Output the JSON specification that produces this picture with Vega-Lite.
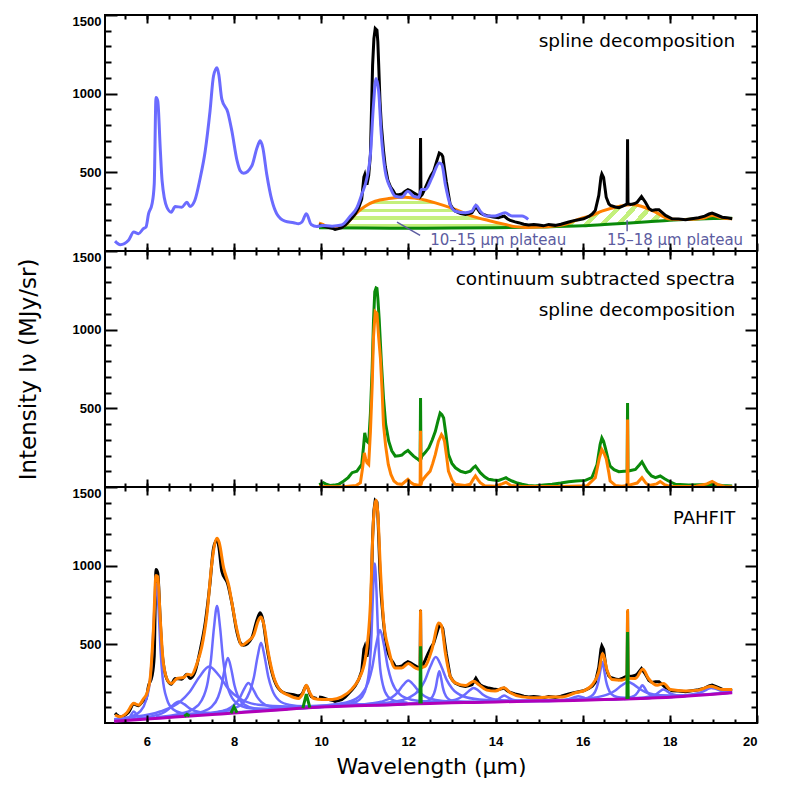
{
"$schema": "https://vega.github.io/schema/vega-lite/v6.json",
"padding": {"left": 16, "top": 13, "right": 5, "bottom": 0},
"background": "white",
"config": {"view": {"stroke": "#000", "strokeWidth": 2}, "axis": {"minExtent": 0, "grid": false, "domain": false, "ticks": true, "tickColor": "#000", "tickWidth": 2, "tickOpacity": 1}},
"datasets": {
"lowres": [{"x":5.27,"y":63},{"x":5.39,"y":40},{"x":5.58,"y":68},{"x":5.70,"y":120},{"x":5.81,"y":110},{"x":5.92,"y":142},{"x":5.98,"y":152},{"x":6.04,"y":237},{"x":6.12,"y":300},{"x":6.17,"y":427},{"x":6.21,"y":975},{"x":6.25,"y":954},{"x":6.31,"y":637},{"x":6.35,"y":447},{"x":6.46,"y":278},{"x":6.56,"y":247},{"x":6.65,"y":283},{"x":6.80,"y":278},{"x":6.92,"y":310},{"x":6.99,"y":283},{"x":7.10,"y":321},{"x":7.22,"y":458},{"x":7.34,"y":637},{"x":7.45,"y":890},{"x":7.53,"y":1112},{"x":7.61,"y":1165},{"x":7.65,"y":1123},{"x":7.72,"y":965},{"x":7.86,"y":880},{"x":7.95,"y":764},{"x":8.07,"y":574},{"x":8.14,"y":511},{"x":8.22,"y":494},{"x":8.41,"y":542},{"x":8.53,"y":658},{"x":8.60,"y":700},{"x":8.66,"y":658},{"x":8.75,"y":490},{"x":8.87,"y":321},{"x":8.98,"y":237},{"x":9.17,"y":190},{"x":9.37,"y":180},{"x":9.48,"y":173},{"x":9.56,"y":184},{"x":9.66,"y":237},{"x":9.77,"y":169},{"x":9.90,"y":156},{"x":10.02,"y":162},{"x":10.25,"y":158},{"x":10.47,"y":165},{"x":10.67,"y":222},{"x":10.82,"y":275},{"x":10.93,"y":359},{"x":11.05,"y":465},{"x":11.13,"y":612},{"x":11.20,"y":928},{"x":11.26,"y":1097},{"x":11.32,"y":1013},{"x":11.38,"y":739},{"x":11.47,"y":506},{"x":11.59,"y":401},{"x":11.70,"y":348},{"x":11.85,"y":342},{"x":11.99,"y":380},{"x":12.12,"y":348},{"x":12.24,"y":342},{"x":12.30,"y":391},{"x":12.39,"y":391},{"x":12.54,"y":465},{"x":12.71,"y":560},{"x":12.77,"y":549},{"x":12.85,"y":422},{"x":12.96,"y":296},{"x":13.08,"y":253},{"x":13.31,"y":243},{"x":13.46,"y":253},{"x":13.55,"y":291},{"x":13.65,"y":253},{"x":13.80,"y":222},{"x":13.99,"y":222},{"x":14.22,"y":243},{"x":14.38,"y":222},{"x":14.61,"y":222},{"x":14.75,"y":201}],
"hires": [{"x":9.95,"y":165},{"x":10.02,"y":162},{"x":10.15,"y":150},{"x":10.25,"y":145},{"x":10.32,"y":137},{"x":10.4,"y":142},{"x":10.47,"y":148},{"x":10.55,"y":165},{"x":10.62,"y":185},{"x":10.71,"y":211},{"x":10.78,"y":235},{"x":10.86,"y":275},{"x":10.93,"y":330},{"x":10.98,"y":470},{"x":11.0,"y":485},{"x":11.03,"y":440},{"x":11.05,"y":422},{"x":11.09,"y":480},{"x":11.13,"y":612},{"x":11.18,"y":1182},{"x":11.21,"y":1350},{"x":11.24,"y":1414},{"x":11.28,"y":1403},{"x":11.30,"y":1330},{"x":11.32,"y":1182},{"x":11.35,"y":950},{"x":11.38,"y":802},{"x":11.43,"y":640},{"x":11.47,"y":538},{"x":11.53,"y":450},{"x":11.59,"y":408},{"x":11.65,"y":385},{"x":11.70,"y":359},{"x":11.78,"y":358},{"x":11.85,"y":362},{"x":11.92,"y":378},{"x":11.99,"y":390},{"x":12.05,"y":382},{"x":12.12,"y":370},{"x":12.18,"y":360},{"x":12.25,"y":348},{"x":12.27,"y":350},{"x":12.28,"y":718},{"x":12.29,"y":350},{"x":12.32,"y":359},{"x":12.39,"y":401},{"x":12.45,"y":440},{"x":12.52,"y":480},{"x":12.58,"y":506},{"x":12.65,"y":570},{"x":12.71,"y":623},{"x":12.76,"y":615},{"x":12.79,"y":601},{"x":12.83,"y":520},{"x":12.87,"y":443},{"x":12.92,"y":360},{"x":12.96,"y":296},{"x":13.02,"y":270},{"x":13.08,"y":253},{"x":13.2,"y":238},{"x":13.31,"y":232},{"x":13.4,"y":238},{"x":13.46,"y":243},{"x":13.51,"y":265},{"x":13.55,"y":285},{"x":13.6,"y":262},{"x":13.65,"y":243},{"x":13.72,"y":232},{"x":13.84,"y":222},{"x":13.95,"y":216},{"x":14.07,"y":211},{"x":14.14,"y":218},{"x":14.2,"y":222},{"x":14.27,"y":205},{"x":14.34,"y":194},{"x":14.45,"y":185},{"x":14.53,"y":180},{"x":14.65,"y":170},{"x":14.76,"y":165},{"x":14.88,"y":168},{"x":14.99,"y":165},{"x":15.1,"y":160},{"x":15.22,"y":169},{"x":15.37,"y":163},{"x":15.5,"y":170},{"x":15.68,"y":184},{"x":15.8,"y":193},{"x":15.91,"y":199},{"x":16.02,"y":205},{"x":16.14,"y":220},{"x":16.22,"y":235},{"x":16.29,"y":258},{"x":16.37,"y":353},{"x":16.42,"y":470},{"x":16.44,"y":490},{"x":16.48,"y":468},{"x":16.54,"y":342},{"x":16.6,"y":300},{"x":16.64,"y":289},{"x":16.75,"y":280},{"x":16.83,"y":275},{"x":16.92,"y":285},{"x":17.0,"y":296},{"x":17.02,"y":300},{"x":17.03,"y":711},{"x":17.04,"y":300},{"x":17.1,"y":296},{"x":17.18,"y":300},{"x":17.25,"y":310},{"x":17.35,"y":346},{"x":17.44,"y":310},{"x":17.52,"y":270},{"x":17.59,"y":258},{"x":17.67,"y":262},{"x":17.75,"y":262},{"x":17.82,"y":245},{"x":17.9,"y":226},{"x":18.05,"y":205},{"x":18.2,"y":203},{"x":18.36,"y":199},{"x":18.5,"y":205},{"x":18.66,"y":211},{"x":18.8,"y":222},{"x":18.9,"y":235},{"x":18.97,"y":241},{"x":19.05,"y":232},{"x":19.2,"y":215},{"x":19.3,"y":212},{"x":19.43,"y":205}],
"spline": [{"x":9.95,"y":178},{"x":10.02,"y":170},{"x":10.15,"y":155},{"x":10.3,"y":148},{"x":10.45,"y":150},{"x":10.6,"y":175},{"x":10.71,"y":211},{"x":10.86,"y":253},{"x":11.01,"y":285},{"x":11.24,"y":316},{"x":11.55,"y":333},{"x":11.93,"y":342},{"x":12.24,"y":332},{"x":12.62,"y":306},{"x":13.08,"y":264},{"x":13.46,"y":222},{"x":13.84,"y":194},{"x":14.22,"y":169},{"x":14.45,"y":155},{"x":14.7,"y":150},{"x":15.0,"y":152},{"x":15.3,"y":157},{"x":15.6,"y":170},{"x":15.83,"y":194},{"x":16.0,"y":210},{"x":16.21,"y":226},{"x":16.44,"y":253},{"x":16.83,"y":283},{"x":17.13,"y":296},{"x":17.36,"y":283},{"x":17.67,"y":247},{"x":17.97,"y":205},{"x":18.2,"y":200},{"x":18.5,"y":202},{"x":18.75,"y":208},{"x":18.97,"y":225},{"x":19.2,"y":210},{"x":19.43,"y":205}],
"base": [{"x":9.95,"y":147},{"x":11,"y":146},{"x":12,"y":145},{"x":13,"y":146},{"x":14,"y":148},{"x":15,"y":152},{"x":16,"y":160},{"x":16.5,"y":168},{"x":17,"y":176},{"x":17.5,"y":186},{"x":18,"y":196},{"x":18.5,"y":202},{"x":19,"y":206},{"x":19.43,"y":208}],
"hatchA": [{"x":10.4,"lo":146,"hi":149},{"x":10.6,"lo":146,"hi":175},{"x":10.86,"lo":146,"hi":253},{"x":11.01,"lo":146,"hi":285},{"x":11.24,"lo":146,"hi":316},{"x":11.55,"lo":145,"hi":333},{"x":11.93,"lo":145,"hi":342},{"x":12.24,"lo":145,"hi":332},{"x":12.62,"lo":145,"hi":306},{"x":13.08,"lo":146,"hi":264},{"x":13.46,"lo":147,"hi":222},{"x":13.84,"lo":147,"hi":194},{"x":14.22,"lo":148,"hi":169},{"x":14.45,"lo":149,"hi":155},{"x":14.65,"lo":150,"hi":150}],
"hatchB": [{"x":15.6,"lo":156,"hi":170},{"x":15.83,"lo":158,"hi":194},{"x":16.0,"lo":160,"hi":210},{"x":16.21,"lo":163,"hi":226},{"x":16.44,"lo":167,"hi":253},{"x":16.83,"lo":173,"hi":283},{"x":17.13,"lo":178,"hi":296},{"x":17.36,"lo":182,"hi":283},{"x":17.67,"lo":189,"hi":247},{"x":17.97,"lo":195,"hi":205},{"x":18.05,"lo":197,"hi":200}],
"midg": [{"x":9.95,"y":15},{"x":9.98,"y":17},{"x":10.05,"y":27},{"x":10.1,"y":20},{"x":10.2,"y":10},{"x":10.3,"y":12},{"x":10.4,"y":17},{"x":10.52,"y":38},{"x":10.62,"y":60},{"x":10.71,"y":91},{"x":10.82,"y":101},{"x":10.93,"y":143},{"x":10.97,"y":250},{"x":11.0,"y":344},{"x":11.03,"y":300},{"x":11.05,"y":291},{"x":11.09,"y":280},{"x":11.13,"y":470},{"x":11.17,"y":755},{"x":11.2,"y":1050},{"x":11.23,"y":1241},{"x":11.26,"y":1265},{"x":11.28,"y":1262},{"x":11.3,"y":1200},{"x":11.33,"y":1072},{"x":11.38,"y":800},{"x":11.43,"y":565},{"x":11.48,"y":400},{"x":11.55,"y":291},{"x":11.62,"y":230},{"x":11.70,"y":196},{"x":11.78,"y":198},{"x":11.85,"y":203},{"x":11.92,"y":220},{"x":11.99,"y":232},{"x":12.05,"y":215},{"x":12.12,"y":196},{"x":12.2,"y":180},{"x":12.25,"y":169},{"x":12.27,"y":175},{"x":12.28,"y":565},{"x":12.29,"y":175},{"x":12.31,"y":196},{"x":12.39,"y":220},{"x":12.47,"y":249},{"x":12.55,"y":300},{"x":12.62,"y":354},{"x":12.68,"y":420},{"x":12.73,"y":470},{"x":12.77,"y":460},{"x":12.81,"y":439},{"x":12.86,"y":340},{"x":12.92,"y":207},{"x":13.0,"y":150},{"x":13.08,"y":122},{"x":13.2,"y":100},{"x":13.31,"y":91},{"x":13.42,"y":101},{"x":13.5,"y":125},{"x":13.54,"y":133},{"x":13.6,"y":110},{"x":13.65,"y":91},{"x":13.75,"y":65},{"x":13.84,"y":49},{"x":13.95,"y":45},{"x":14.07,"y":42},{"x":14.17,"y":52},{"x":14.24,"y":59},{"x":14.3,"y":48},{"x":14.38,"y":38},{"x":14.5,"y":25},{"x":14.61,"y":17},{"x":14.75,"y":10},{"x":14.91,"y":6},{"x":15.1,"y":12},{"x":15.3,"y":17},{"x":15.5,"y":25},{"x":15.68,"y":34},{"x":15.85,"y":38},{"x":16.06,"y":42},{"x":16.21,"y":59},{"x":16.33,"y":143},{"x":16.4,"y":270},{"x":16.44,"y":312},{"x":16.48,"y":290},{"x":16.52,"y":249},{"x":16.58,"y":180},{"x":16.63,"y":133},{"x":16.72,"y":110},{"x":16.83,"y":97},{"x":16.95,"y":100},{"x":17.02,"y":101},{"x":17.03,"y":534},{"x":17.04,"y":101},{"x":17.1,"y":105},{"x":17.21,"y":112},{"x":17.3,"y":140},{"x":17.36,"y":160},{"x":17.42,"y":130},{"x":17.48,"y":101},{"x":17.58,"y":70},{"x":17.67,"y":59},{"x":17.78,"y":70},{"x":17.88,"y":52},{"x":17.97,"y":38},{"x":18.13,"y":17},{"x":18.43,"y":13},{"x":18.7,"y":15},{"x":18.97,"y":17},{"x":19.2,"y":10},{"x":19.43,"y":6}],
"mido": [{"x":9.95,"y":3},{"x":10.5,"y":2},{"x":10.8,"y":10},{"x":10.9,"y":27},{"x":10.95,"y":120},{"x":10.99,"y":217},{"x":11.02,"y":180},{"x":11.05,"y":154},{"x":11.09,"y":143},{"x":11.13,"y":350},{"x":11.17,"y":640},{"x":11.2,"y":950},{"x":11.24,"y":1114},{"x":11.28,"y":1103},{"x":11.32,"y":950},{"x":11.36,"y":818},{"x":11.4,"y":600},{"x":11.43,"y":396},{"x":11.48,"y":260},{"x":11.54,"y":143},{"x":11.6,"y":80},{"x":11.67,"y":38},{"x":11.75,"y":20},{"x":11.85,"y":17},{"x":11.93,"y":35},{"x":11.99,"y":49},{"x":12.05,"y":30},{"x":12.12,"y":17},{"x":12.25,"y":10},{"x":12.27,"y":12},{"x":12.28,"y":358},{"x":12.29,"y":12},{"x":12.31,"y":38},{"x":12.4,"y":70},{"x":12.5,"y":101},{"x":12.56,"y":150},{"x":12.62,"y":207},{"x":12.69,"y":290},{"x":12.76,"y":333},{"x":12.8,"y":315},{"x":12.83,"y":291},{"x":12.88,"y":190},{"x":12.92,"y":101},{"x":13.0,"y":45},{"x":13.08,"y":17},{"x":13.3,"y":10},{"x":13.42,"y":17},{"x":13.49,"y":50},{"x":13.54,"y":70},{"x":13.6,"y":45},{"x":13.65,"y":27},{"x":13.75,"y":8},{"x":14.0,"y":5},{"x":14.15,"y":20},{"x":14.24,"y":30},{"x":14.35,"y":10},{"x":14.6,"y":3},{"x":15.5,"y":3},{"x":16.1,"y":8},{"x":16.29,"y":59},{"x":16.38,"y":180},{"x":16.44,"y":238},{"x":16.49,"y":215},{"x":16.54,"y":180},{"x":16.6,"y":90},{"x":16.63,"y":38},{"x":16.75,"y":10},{"x":16.9,"y":5},{"x":17.02,"y":10},{"x":17.03,"y":429},{"x":17.04,"y":10},{"x":17.25,"y":25},{"x":17.36,"y":59},{"x":17.45,"y":25},{"x":17.52,"y":10},{"x":17.7,"y":20},{"x":17.78,"y":35},{"x":17.88,"y":15},{"x":18.0,"y":3},{"x":18.6,"y":5},{"x":18.85,"y":20},{"x":18.97,"y":35},{"x":19.1,"y":15},{"x":19.25,"y":3},{"x":19.43,"y":2}],
"model": [{"x":5.27,"y":51},{"x":5.39,"y":40},{"x":5.54,"y":65},{"x":5.70,"y":125},{"x":5.81,"y":114},{"x":5.92,"y":152},{"x":6.0,"y":188},{"x":6.08,"y":293},{"x":6.15,"y":589},{"x":6.21,"y":937},{"x":6.25,"y":930},{"x":6.31,"y":652},{"x":6.38,"y":378},{"x":6.50,"y":261},{"x":6.57,"y":251},{"x":6.69,"y":283},{"x":6.84,"y":289},{"x":6.94,"y":310},{"x":7.02,"y":304},{"x":7.15,"y":378},{"x":7.26,"y":483},{"x":7.38,"y":694},{"x":7.49,"y":1011},{"x":7.61,"y":1175},{"x":7.66,"y":1147},{"x":7.76,"y":989},{"x":7.88,"y":873},{"x":7.95,"y":768},{"x":8.07,"y":589},{"x":8.18,"y":494},{"x":8.30,"y":515},{"x":8.45,"y":557},{"x":8.56,"y":652},{"x":8.62,"y":673},{"x":8.68,"y":631},{"x":8.79,"y":441},{"x":8.91,"y":293},{"x":9.06,"y":209},{"x":9.25,"y":177},{"x":9.48,"y":156},{"x":9.58,"y":188},{"x":9.66,"y":240},{"x":9.73,"y":198},{"x":9.83,"y":156},{"x":10.02,"y":150},{"x":10.25,"y":150},{"x":10.47,"y":166},{"x":10.71,"y":217},{"x":10.86,"y":277},{"x":11.01,"y":403},{"x":11.13,"y":761},{"x":11.20,"y":1289},{"x":11.26,"y":1416},{"x":11.30,"y":1331},{"x":11.36,"y":973},{"x":11.43,"y":656},{"x":11.55,"y":466},{"x":11.70,"y":350},{"x":11.85,"y":350},{"x":12.0,"y":378},{"x":12.16,"y":350},{"x":12.26,"y":342},{"x":12.27,"y":345},{"x":12.28,"y":715},{"x":12.29,"y":345},{"x":12.30,"y":350},{"x":12.39,"y":361},{"x":12.54,"y":466},{"x":12.70,"y":635},{"x":12.76,"y":620},{"x":12.85,"y":445},{"x":12.96,"y":297},{"x":13.08,"y":255},{"x":13.31,"y":238},{"x":13.50,"y":266},{"x":13.61,"y":245},{"x":13.80,"y":209},{"x":13.99,"y":203},{"x":14.19,"y":224},{"x":14.34,"y":192},{"x":14.61,"y":166},{"x":14.99,"y":160},{"x":15.30,"y":166},{"x":15.53,"y":166},{"x":15.83,"y":192},{"x":16.06,"y":209},{"x":16.21,"y":240},{"x":16.37,"y":325},{"x":16.46,"y":441},{"x":16.56,"y":335},{"x":16.67,"y":277},{"x":16.90,"y":272},{"x":17.0,"y":282},{"x":17.02,"y":284},{"x":17.03,"y":715},{"x":17.04,"y":284},{"x":17.21,"y":283},{"x":17.38,"y":342},{"x":17.51,"y":283},{"x":17.71,"y":240},{"x":17.86,"y":251},{"x":18.01,"y":213},{"x":18.36,"y":204},{"x":18.66,"y":209},{"x":18.95,"y":234},{"x":19.20,"y":213},{"x":19.43,"y":213}],
"cont": [{"x":5.25,"y":11},{"x":5.5,"y":16},{"x":6,"y":25},{"x":6.5,"y":35},{"x":7,"y":45},{"x":7.5,"y":54},{"x":8,"y":63},{"x":8.5,"y":73},{"x":9,"y":83},{"x":9.5,"y":93},{"x":10,"y":101},{"x":10.5,"y":107},{"x":11,"y":111},{"x":11.5,"y":115},{"x":12,"y":120},{"x":12.5,"y":124},{"x":13,"y":128},{"x":13.5,"y":131},{"x":14,"y":134},{"x":14.5,"y":137},{"x":15,"y":140},{"x":15.5,"y":142},{"x":16,"y":145},{"x":16.5,"y":149},{"x":17,"y":153},{"x":17.5,"y":158},{"x":18,"y":164},{"x":18.5,"y":173},{"x":19,"y":183},{"x":19.43,"y":192}],
"h2": [{"id":1,"x":6.86,"y":43},{"id":1,"x":6.92,"y":55},{"id":1,"x":6.98,"y":45},{"id":2,"x":7.93,"y":62},{"id":2,"x":8.0,"y":103},{"id":2,"x":8.07,"y":65},{"id":3,"x":9.58,"y":94},{"id":3,"x":9.66,"y":184},{"id":3,"x":9.74,"y":97},{"id":4,"x":12.265,"y":124},{"id":4,"x":12.28,"y":487},{"id":4,"x":12.295,"y":124},{"id":5,"x":17.015,"y":153},{"id":5,"x":17.03,"y":578},{"id":5,"x":17.045,"y":154}],
"drude": [
{"id":1,"x":5.25,"y":12},{"id":1,"x":5.40,"y":17},{"id":1,"x":5.51,"y":23},{"id":1,"x":5.59,"y":34},{"id":1,"x":5.625,"y":45},{"id":1,"x":5.66,"y":61},{"id":1,"x":5.70,"y":73},{"id":1,"x":5.74,"y":63},{"id":1,"x":5.775,"y":48},{"id":1,"x":5.81,"y":38},{"id":1,"x":5.89,"y":30},{"id":1,"x":6.0,"y":28},{"id":1,"x":6.15,"y":29},{"id":1,"x":6.45,"y":35},
{"id":2,"x":5.27,"y":20},{"id":2,"x":5.65,"y":42},{"id":2,"x":5.84,"y":72},{"id":2,"x":5.98,"y":143},{"id":2,"x":6.08,"y":290},{"id":2,"x":6.125,"y":456},{"id":2,"x":6.17,"y":713},{"id":2,"x":6.22,"y":885},{"id":2,"x":6.27,"y":715},{"id":2,"x":6.315,"y":459},{"id":2,"x":6.36,"y":295},{"id":2,"x":6.46,"y":152},{"id":2,"x":6.60,"y":87},{"id":2,"x":6.79,"y":64},{"id":2,"x":7.17,"y":57},{"id":2,"x":7.8,"y":63},
{"id":3,"x":5.25,"y":14},{"id":3,"x":5.73,"y":26},{"id":3,"x":6.105,"y":42},{"id":3,"x":6.355,"y":62},{"id":3,"x":6.48,"y":84},{"id":3,"x":6.605,"y":115},{"id":3,"x":6.73,"y":137},{"id":3,"x":6.855,"y":120},{"id":3,"x":6.98,"y":93},{"id":3,"x":7.105,"y":76},{"id":3,"x":7.355,"y":65},{"id":3,"x":7.73,"y":64},{"id":3,"x":8.23,"y":71},{"id":3,"x":9.23,"y":88},
{"id":4,"x":5.25,"y":24},{"id":4,"x":5.63,"y":36},{"id":4,"x":6.305,"y":73},{"id":4,"x":6.755,"y":134},{"id":4,"x":6.98,"y":197},{"id":4,"x":7.205,"y":293},{"id":4,"x":7.43,"y":359},{"id":4,"x":7.655,"y":302},{"id":4,"x":7.88,"y":214},{"id":4,"x":8.105,"y":160},{"id":4,"x":8.555,"y":116},{"id":4,"x":9.23,"y":105},{"id":4,"x":10.13,"y":111},{"id":4,"x":11.93,"y":122},
{"id":5,"x":6.21,"y":36},{"id":5,"x":6.77,"y":59},{"id":5,"x":7.05,"y":86},{"id":5,"x":7.26,"y":145},{"id":5,"x":7.40,"y":264},{"id":5,"x":7.47,"y":398},{"id":5,"x":7.54,"y":605},{"id":5,"x":7.61,"y":744},{"id":5,"x":7.68,"y":608},{"id":5,"x":7.75,"y":403},{"id":5,"x":7.82,"y":272},{"id":5,"x":7.96,"y":158},{"id":5,"x":8.17,"y":108},{"id":5,"x":8.45,"y":91},{"id":5,"x":9.01,"y":90},
{"id":6,"x":6.36,"y":36},{"id":6,"x":6.96,"y":54},{"id":6,"x":7.26,"y":71},{"id":6,"x":7.485,"y":103},{"id":6,"x":7.635,"y":165},{"id":6,"x":7.71,"y":234},{"id":6,"x":7.785,"y":342},{"id":6,"x":7.86,"y":413},{"id":6,"x":7.935,"y":345},{"id":6,"x":8.01,"y":240},{"id":6,"x":8.085,"y":173},{"id":6,"x":8.235,"y":117},{"id":6,"x":8.46,"y":94},{"id":6,"x":8.76,"y":88},{"id":6,"x":9.36,"y":93},
{"id":7,"x":6.33,"y":34},{"id":7,"x":7.13,"y":52},{"id":7,"x":7.53,"y":66},{"id":7,"x":7.83,"y":85},{"id":7,"x":8.03,"y":121},{"id":7,"x":8.13,"y":158},{"id":7,"x":8.23,"y":215},{"id":7,"x":8.33,"y":254},{"id":7,"x":8.43,"y":219},{"id":7,"x":8.53,"y":166},{"id":7,"x":8.63,"y":133},{"id":7,"x":8.83,"y":105},{"id":7,"x":9.13,"y":96},{"id":7,"x":9.53,"y":98},{"id":7,"x":10.33,"y":107},
{"id":8,"x":6.97,"y":48},{"id":8,"x":7.63,"y":69},{"id":8,"x":7.96,"y":89},{"id":8,"x":8.21,"y":128},{"id":8,"x":8.37,"y":205},{"id":8,"x":8.455,"y":289},{"id":8,"x":8.54,"y":421},{"id":8,"x":8.62,"y":510},{"id":8,"x":8.70,"y":424},{"id":8,"x":8.785,"y":296},{"id":8,"x":8.87,"y":215},{"id":8,"x":9.03,"y":144},{"id":8,"x":9.28,"y":115},{"id":8,"x":9.61,"y":107},{"id":8,"x":10.27,"y":108},
{"id":9,"x":9.43,"y":91},{"id":9,"x":9.93,"y":102},{"id":9,"x":10.18,"y":106},{"id":9,"x":10.37,"y":109},{"id":9,"x":10.49,"y":115},{"id":9,"x":10.555,"y":122},{"id":9,"x":10.62,"y":131},{"id":9,"x":10.68,"y":138},{"id":9,"x":10.74,"y":132},{"id":9,"x":10.805,"y":124},{"id":9,"x":10.87,"y":119},{"id":9,"x":10.99,"y":115},{"id":9,"x":11.18,"y":114},{"id":9,"x":11.43,"y":115},{"id":9,"x":11.93,"y":119},
{"id":10,"x":10.48,"y":115},{"id":10,"x":10.78,"y":133},{"id":10,"x":10.93,"y":163},{"id":10,"x":11.04,"y":235},{"id":10,"x":11.12,"y":389},{"id":10,"x":11.155,"y":562},{"id":10,"x":11.19,"y":832},{"id":10,"x":11.23,"y":1013},{"id":10,"x":11.27,"y":833},{"id":10,"x":11.305,"y":563},{"id":10,"x":11.34,"y":391},{"id":10,"x":11.42,"y":238},{"id":10,"x":11.53,"y":168},{"id":10,"x":11.68,"y":141},{"id":10,"x":11.98,"y":128},
{"id":11,"x":9.55,"y":99},{"id":11,"x":10.27,"y":117},{"id":11,"x":10.63,"y":135},{"id":11,"x":10.90,"y":176},{"id":11,"x":11.08,"y":258},{"id":11,"x":11.17,"y":351},{"id":11,"x":11.26,"y":495},{"id":11,"x":11.35,"y":591},{"id":11,"x":11.44,"y":496},{"id":11,"x":11.53,"y":354},{"id":11,"x":11.62,"y":263},{"id":11,"x":11.80,"y":184},{"id":11,"x":12.07,"y":148},{"id":11,"x":12.43,"y":136},{"id":11,"x":13.15,"y":134},
{"id":12,"x":9.5,"y":94},{"id":12,"x":10.5,"y":110},{"id":12,"x":11.0,"y":120},{"id":12,"x":11.375,"y":135},{"id":12,"x":11.625,"y":163},{"id":12,"x":11.75,"y":193},{"id":12,"x":11.875,"y":239},{"id":12,"x":12.0,"y":270},{"id":12,"x":12.125,"y":241},{"id":12,"x":12.25,"y":198},{"id":12,"x":12.375,"y":170},{"id":12,"x":12.625,"y":146},{"id":12,"x":13.0,"y":137},{"id":12,"x":13.5,"y":135},{"id":12,"x":14.5,"y":138},
{"id":13,"x":10.13,"y":106},{"id":13,"x":11.13,"y":120},{"id":13,"x":11.63,"y":133},{"id":13,"x":12.005,"y":160},{"id":13,"x":12.255,"y":213},{"id":13,"x":12.38,"y":270},{"id":13,"x":12.505,"y":359},{"id":13,"x":12.63,"y":419},{"id":13,"x":12.755,"y":361},{"id":13,"x":12.88,"y":274},{"id":13,"x":13.005,"y":219},{"id":13,"x":13.255,"y":170},{"id":13,"x":13.63,"y":149},{"id":13,"x":14.13,"y":142},{"id":13,"x":15.13,"y":142},
{"id":14,"x":11.91,"y":121},{"id":14,"x":12.23,"y":127},{"id":14,"x":12.39,"y":135},{"id":14,"x":12.51,"y":152},{"id":14,"x":12.59,"y":188},{"id":14,"x":12.63,"y":227},{"id":14,"x":12.67,"y":288},{"id":14,"x":12.71,"y":329},{"id":14,"x":12.75,"y":288},{"id":14,"x":12.79,"y":228},{"id":14,"x":12.83,"y":190},{"id":14,"x":12.91,"y":155},{"id":14,"x":13.03,"y":140},{"id":14,"x":13.19,"y":135},{"id":14,"x":13.51,"y":133},
{"id":15,"x":11.25,"y":114},{"id":15,"x":12.15,"y":124},{"id":15,"x":12.6,"y":130},{"id":15,"x":12.94,"y":140},{"id":15,"x":13.16,"y":157},{"id":15,"x":13.275,"y":176},{"id":15,"x":13.39,"y":204},{"id":15,"x":13.5,"y":223},{"id":15,"x":13.61,"y":205},{"id":15,"x":13.725,"y":178},{"id":15,"x":13.84,"y":161},{"id":15,"x":14.06,"y":147},{"id":15,"x":14.4,"y":141},{"id":15,"x":14.85,"y":142},{"id":15,"x":15.75,"y":145},
{"id":16,"x":12.95,"y":128},{"id":16,"x":13.45,"y":132},{"id":16,"x":13.7,"y":134},{"id":16,"x":13.89,"y":139},{"id":16,"x":14.01,"y":146},{"id":16,"x":14.075,"y":154},{"id":16,"x":14.14,"y":167},{"id":16,"x":14.2,"y":175},{"id":16,"x":14.26,"y":167},{"id":16,"x":14.325,"y":156},{"id":16,"x":14.39,"y":148},{"id":16,"x":14.51,"y":142},{"id":16,"x":14.7,"y":140},{"id":16,"x":14.95,"y":140},{"id":16,"x":15.45,"y":142},
{"id":17,"x":14.4,"y":136},{"id":17,"x":15.0,"y":140},{"id":17,"x":15.3,"y":142},{"id":17,"x":15.525,"y":146},{"id":17,"x":15.675,"y":151},{"id":17,"x":15.75,"y":157},{"id":17,"x":15.825,"y":165},{"id":17,"x":15.9,"y":170},{"id":17,"x":15.975,"y":166},{"id":17,"x":16.05,"y":158},{"id":17,"x":16.125,"y":154},{"id":17,"x":16.275,"y":151},{"id":17,"x":16.5,"y":150},{"id":17,"x":16.8,"y":152},{"id":17,"x":17.4,"y":157},
{"id":18,"x":15.6,"y":145},{"id":18,"x":15.94,"y":152},{"id":18,"x":16.11,"y":160},{"id":18,"x":16.24,"y":180},{"id":18,"x":16.32,"y":222},{"id":18,"x":16.365,"y":268},{"id":18,"x":16.41,"y":339},{"id":18,"x":16.45,"y":388},{"id":18,"x":16.49,"y":340},{"id":18,"x":16.535,"y":269},{"id":18,"x":16.58,"y":224},{"id":18,"x":16.66,"y":183},{"id":18,"x":16.79,"y":165},{"id":18,"x":16.96,"y":160},{"id":18,"x":17.3,"y":158},
{"id":19,"x":14.04,"y":135},{"id":19,"x":15.24,"y":144},{"id":19,"x":15.84,"y":150},{"id":19,"x":16.29,"y":162},{"id":19,"x":16.59,"y":183},{"id":19,"x":16.74,"y":205},{"id":19,"x":16.89,"y":238},{"id":19,"x":17.04,"y":261},{"id":19,"x":17.19,"y":241},{"id":19,"x":17.34,"y":211},{"id":19,"x":17.49,"y":191},{"id":19,"x":17.79,"y":177},{"id":19,"x":18.24,"y":175},{"id":19,"x":18.84,"y":183},{"id":19,"x":19.43,"y":194},
{"id":20,"x":16.37,"y":149},{"id":20,"x":16.77,"y":153},{"id":20,"x":16.97,"y":158},{"id":20,"x":17.12,"y":166},{"id":20,"x":17.22,"y":181},{"id":20,"x":17.27,"y":198},{"id":20,"x":17.32,"y":222},{"id":20,"x":17.37,"y":240},{"id":20,"x":17.42,"y":224},{"id":20,"x":17.47,"y":200},{"id":20,"x":17.52,"y":185},{"id":20,"x":17.62,"y":172},{"id":20,"x":17.77,"y":166},{"id":20,"x":17.97,"y":165},{"id":20,"x":18.37,"y":172},
{"id":21,"x":16.35,"y":148},{"id":21,"x":16.95,"y":154},{"id":21,"x":17.25,"y":159},{"id":21,"x":17.475,"y":165},{"id":21,"x":17.625,"y":176},{"id":21,"x":17.7,"y":186},{"id":21,"x":17.775,"y":202},{"id":21,"x":17.85,"y":213},{"id":21,"x":17.925,"y":204},{"id":21,"x":18.0,"y":190},{"id":21,"x":18.075,"y":181},{"id":21,"x":18.225,"y":175},{"id":21,"x":18.45,"y":176},{"id":21,"x":18.75,"y":180},{"id":21,"x":19.35,"y":190},
{"id":22,"x":16.95,"y":153},{"id":22,"x":17.75,"y":162},{"id":22,"x":18.15,"y":169},{"id":22,"x":18.45,"y":179},{"id":22,"x":18.65,"y":189},{"id":22,"x":18.75,"y":199},{"id":22,"x":18.85,"y":213},{"id":22,"x":18.95,"y":223},{"id":22,"x":19.05,"y":217},{"id":22,"x":19.15,"y":207},{"id":22,"x":19.25,"y":201},{"id":22,"x":19.43,"y":198}]
},
"vconcat": [
{
"width": 652, "height": 236,
"resolve": {"axis": {"x": "independent", "y": "independent"}},
"layer": [
{"data": {"name": "hatchA"}, "mark": {"type": "area", "interpolate": "monotone", "fill": {"gradient": "linear", "x1": 0, "y1": 0, "x2": 0, "y2": 1, "stops": [{"offset":0,"color":"#ffffff"},{"offset":0.12,"color":"#ffffff"},{"offset":0.12,"color":"#c4f07c"},{"offset":0.22,"color":"#c4f07c"},{"offset":0.22,"color":"#ffffff"},{"offset":0.37,"color":"#ffffff"},{"offset":0.37,"color":"#c4f07c"},{"offset":0.47,"color":"#c4f07c"},{"offset":0.47,"color":"#ffffff"},{"offset":0.62,"color":"#ffffff"},{"offset":0.62,"color":"#c4f07c"},{"offset":0.72,"color":"#c4f07c"},{"offset":0.72,"color":"#ffffff"},{"offset":0.87,"color":"#ffffff"},{"offset":0.87,"color":"#c4f07c"},{"offset":0.97,"color":"#c4f07c"},{"offset":0.97,"color":"#ffffff"},{"offset":1,"color":"#ffffff"}]}},
 "encoding": {"x": {"field": "x", "type": "quantitative", "scale": {"domain": [5.04, 20], "nice": false, "zero": false}, "axis": {"orient": "bottom", "values": [6,8,10,12,14,16,18,20], "offset": -8, "tickSize": 8, "ticks": true, "labels": false, "title": null, "zindex": 1}},
  "y": {"field": "lo", "type": "quantitative", "scale": {"domain": [0, 1500], "nice": false, "zero": false}, "axis": {"orient": "left", "values": [500,1000,1500], "format": "d", "offset": -12, "tickSize": 12, "ticks": true, "labelFont": "Liberation Sans", "labelFontSize": 13, "labelFontWeight": "bold", "labelColor": "#000", "labelPadding": 4, "labelFlush": true, "title": null, "zindex": 1}},
  "y2": {"field": "hi"}}},
{"data": {"name": "hatchB"}, "mark": {"type": "area", "interpolate": "monotone", "fill": {"gradient": "linear", "x1": 0, "y1": 0, "x2": 1, "y2": 0.2, "stops": [{"offset":0,"color":"#ffffff"},{"offset":0.05,"color":"#ffffff"},{"offset":0.05,"color":"#c4f07c"},{"offset":0.105,"color":"#c4f07c"},{"offset":0.105,"color":"#ffffff"},{"offset":0.193,"color":"#ffffff"},{"offset":0.193,"color":"#c4f07c"},{"offset":0.248,"color":"#c4f07c"},{"offset":0.248,"color":"#ffffff"},{"offset":0.336,"color":"#ffffff"},{"offset":0.336,"color":"#c4f07c"},{"offset":0.391,"color":"#c4f07c"},{"offset":0.391,"color":"#ffffff"},{"offset":0.479,"color":"#ffffff"},{"offset":0.479,"color":"#c4f07c"},{"offset":0.534,"color":"#c4f07c"},{"offset":0.534,"color":"#ffffff"},{"offset":0.622,"color":"#ffffff"},{"offset":0.622,"color":"#c4f07c"},{"offset":0.677,"color":"#c4f07c"},{"offset":0.677,"color":"#ffffff"},{"offset":0.765,"color":"#ffffff"},{"offset":0.765,"color":"#c4f07c"},{"offset":0.82,"color":"#c4f07c"},{"offset":0.82,"color":"#ffffff"},{"offset":0.908,"color":"#ffffff"},{"offset":0.908,"color":"#c4f07c"},{"offset":0.963,"color":"#c4f07c"},{"offset":0.963,"color":"#ffffff"},{"offset":1,"color":"#ffffff"}]}},
 "encoding": {"x": {"field": "x", "type": "quantitative", "scale": {"domain": [5.04, 20], "nice": false, "zero": false}, "axis": null},
  "y": {"field": "lo", "type": "quantitative", "scale": {"domain": [0, 1500], "nice": false, "zero": false}, "axis": null},
  "y2": {"field": "hi"}}},
{"data": {"name": "base"}, "mark": {"type": "line", "color": "#0a8a0a", "strokeWidth": 3, "interpolate": "monotone"},
 "encoding": {"x": {"field": "x", "type": "quantitative", "scale": {"domain": [5.04, 20], "nice": false, "zero": false}, "axis": {"orient": "bottom", "values": [5.5,6,6.5,7,7.5,8,8.5,9,9.5,10,10.5,11,11.5,12,12.5,13,13.5,14,14.5,15,15.5,16,16.5,17,17.5,18,18.5,19,19.5], "offset": -4, "tickSize": 4, "ticks": true, "labels": false, "title": null, "zindex": 1}},
  "y": {"field": "y", "type": "quantitative", "scale": {"domain": [0, 1500], "nice": false, "zero": false}, "axis": {"orient": "left", "values": [100,200,300,400,600,700,800,900,1100,1200,1300,1400], "offset": -6, "tickSize": 6, "ticks": true, "labels": false, "title": null, "zindex": 1}}}},
{"data": {"name": "spline"}, "mark": {"type": "line", "color": "#ff8000", "strokeWidth": 3, "interpolate": "monotone"},
 "encoding": {"x": {"field": "x", "type": "quantitative", "scale": {"domain": [5.04, 20], "nice": false, "zero": false}, "axis": {"orient": "top", "values": [6,8,10,12,14,16,18], "offset": -8, "tickSize": 8, "ticks": true, "labels": false, "title": null, "zindex": 1}},
  "y": {"field": "y", "type": "quantitative", "scale": {"domain": [0, 1500], "nice": false, "zero": false}, "axis": {"orient": "right", "values": [500,1000], "offset": -12, "tickSize": 12, "ticks": true, "labels": false, "title": null, "zindex": 1}}}},
{"data": {"name": "hires"}, "mark": {"type": "line", "color": "#000000", "strokeWidth": 3},
 "encoding": {"x": {"field": "x", "type": "quantitative", "scale": {"domain": [5.04, 20], "nice": false, "zero": false}, "axis": {"orient": "top", "values": [5.5,6,6.5,7,7.5,8,8.5,9,9.5,10,10.5,11,11.5,12,12.5,13,13.5,14,14.5,15,15.5,16,16.5,17,17.5,18,18.5,19,19.5], "offset": -4, "tickSize": 4, "ticks": true, "labels": false, "title": null, "zindex": 1}},
  "y": {"field": "y", "type": "quantitative", "scale": {"domain": [0, 1500], "nice": false, "zero": false}, "axis": {"orient": "right", "values": [100,200,300,400,600,700,800,900,1100,1200,1300,1400], "offset": -6, "tickSize": 6, "ticks": true, "labels": false, "title": null, "zindex": 1}}}},
{"data": {"name": "lowres"}, "mark": {"type": "line", "color": "#6b6bff", "strokeWidth": 3, "interpolate": "monotone"},
 "encoding": {"x": {"field": "x", "type": "quantitative", "scale": {"domain": [5.04, 20], "nice": false, "zero": false}, "axis": null},
  "y": {"field": "y", "type": "quantitative", "scale": {"domain": [0, 1500], "nice": false, "zero": false}, "axis": null}}},
{"data": {"values": [{"x": 11.74, "y": 184, "x2": 12.27, "y2": 99}, {"x": 17.02, "y": 195, "x2": 17.02, "y2": 125}]}, "mark": {"type": "rule", "color": "#5c5ca0", "strokeWidth": 1.5},
 "encoding": {"x": {"field": "x", "type": "quantitative", "scale": {"domain": [5.04, 20], "nice": false, "zero": false}, "axis": null}, "x2": {"field": "x2"},
  "y": {"field": "y", "type": "quantitative", "scale": {"domain": [0, 1500], "nice": false, "zero": false}, "axis": null}, "y2": {"field": "y2"}}},
{"data": {"values": [{"x": 12.5, "y": 72, "t": "10–15 μm plateau"}, {"x": 16.56, "y": 72, "t": "15–18 μm plateau"}]}, "mark": {"type": "text", "align": "left", "baseline": "middle", "font": "DejaVu Sans", "fontSize": 15, "color": "#5c5ca0"},
 "encoding": {"x": {"field": "x", "type": "quantitative", "scale": {"domain": [5.04, 20], "nice": false, "zero": false}, "axis": null},
  "y": {"field": "y", "type": "quantitative", "scale": {"domain": [0, 1500], "nice": false, "zero": false}, "axis": null}, "text": {"field": "t"}}},
{"data": {"values": [{"x": 19.5, "y": 1333, "t": "spline decomposition"}]}, "mark": {"type": "text", "align": "right", "baseline": "middle", "font": "DejaVu Sans", "fontSize": 18.5, "color": "#000"},
 "encoding": {"x": {"field": "x", "type": "quantitative", "scale": {"domain": [5.04, 20], "nice": false, "zero": false}, "axis": null},
  "y": {"field": "y", "type": "quantitative", "scale": {"domain": [0, 1500], "nice": false, "zero": false}, "axis": null}, "text": {"field": "t"}}}
]
},
{
"width": 652, "height": 236,
"resolve": {"axis": {"x": "independent", "y": "independent"}},
"layer": [
{"data": {"name": "midg"}, "mark": {"type": "line", "color": "#0a8a0a", "strokeWidth": 3},
 "encoding": {"x": {"field": "x", "type": "quantitative", "scale": {"domain": [5.04, 20], "nice": false, "zero": false}, "axis": {"orient": "bottom", "values": [6,8,10,12,14,16,18,20], "offset": -8, "tickSize": 8, "ticks": true, "labels": false, "title": null, "zindex": 1}},
  "y": {"field": "y", "type": "quantitative", "scale": {"domain": [0, 1500], "nice": false, "zero": false}, "axis": {"orient": "left", "values": [500,1000,1500], "format": "d", "offset": -12, "tickSize": 12, "ticks": true, "labelFont": "Liberation Sans", "labelFontSize": 13, "labelFontWeight": "bold", "labelColor": "#000", "labelPadding": 4, "labelFlush": true, "title": "Intensity Iν (MJy/sr)", "titleFont": "DejaVu Sans", "titleFontSize": 23, "titleFontWeight": "normal", "titleColor": "#000", "titlePadding": 32, "zindex": 1}}}},
{"data": {"name": "mido"}, "mark": {"type": "line", "color": "#ff8000", "strokeWidth": 3},
 "encoding": {"x": {"field": "x", "type": "quantitative", "scale": {"domain": [5.04, 20], "nice": false, "zero": false}, "axis": {"orient": "bottom", "values": [5.5,6,6.5,7,7.5,8,8.5,9,9.5,10,10.5,11,11.5,12,12.5,13,13.5,14,14.5,15,15.5,16,16.5,17,17.5,18,18.5,19,19.5], "offset": -4, "tickSize": 4, "ticks": true, "labels": false, "title": null, "zindex": 1}},
  "y": {"field": "y", "type": "quantitative", "scale": {"domain": [0, 1500], "nice": false, "zero": false}, "axis": {"orient": "left", "values": [100,200,300,400,600,700,800,900,1100,1200,1300,1400], "offset": -6, "tickSize": 6, "ticks": true, "labels": false, "title": null, "zindex": 1}}}},
{"data": {"values": [{"x": 19.5, "y": 1325, "t": "continuum subtracted spectra"}]}, "mark": {"type": "text", "align": "right", "baseline": "middle", "font": "DejaVu Sans", "fontSize": 18.5, "color": "#000"},
 "encoding": {"x": {"field": "x", "type": "quantitative", "scale": {"domain": [5.04, 20], "nice": false, "zero": false}, "axis": {"orient": "top", "values": [6,8,10,12,14,16,18], "offset": -8, "tickSize": 8, "ticks": true, "labels": false, "title": null, "zindex": 1}},
  "y": {"field": "y", "type": "quantitative", "scale": {"domain": [0, 1500], "nice": false, "zero": false}, "axis": {"orient": "right", "values": [500,1000], "offset": -12, "tickSize": 12, "ticks": true, "labels": false, "title": null, "zindex": 1}}, "text": {"field": "t"}}},
{"data": {"values": [{"x": 19.5, "y": 1127, "t": "spline decomposition"}]}, "mark": {"type": "text", "align": "right", "baseline": "middle", "font": "DejaVu Sans", "fontSize": 18.5, "color": "#000"},
 "encoding": {"x": {"field": "x", "type": "quantitative", "scale": {"domain": [5.04, 20], "nice": false, "zero": false}, "axis": {"orient": "top", "values": [5.5,6,6.5,7,7.5,8,8.5,9,9.5,10,10.5,11,11.5,12,12.5,13,13.5,14,14.5,15,15.5,16,16.5,17,17.5,18,18.5,19,19.5], "offset": -4, "tickSize": 4, "ticks": true, "labels": false, "title": null, "zindex": 1}},
  "y": {"field": "y", "type": "quantitative", "scale": {"domain": [0, 1500], "nice": false, "zero": false}, "axis": {"orient": "right", "values": [100,200,300,400,600,700,800,900,1100,1200,1300,1400], "offset": -6, "tickSize": 6, "ticks": true, "labels": false, "title": null, "zindex": 1}}, "text": {"field": "t"}}}
]
},
{
"width": 652, "height": 236,
"resolve": {"axis": {"x": "independent", "y": "independent"}},
"layer": [
{"data": {"name": "lowres"}, "transform": [{"filter": "datum.x < 9.95"}], "mark": {"type": "line", "color": "#000000", "strokeWidth": 3, "interpolate": "monotone"},
 "encoding": {"x": {"field": "x", "type": "quantitative", "scale": {"domain": [5.04, 20], "nice": false, "zero": false}, "axis": {"orient": "bottom", "values": [6,8,10,12,14,16,18,20], "offset": -8, "tickSize": 8, "ticks": true, "labels": true, "labelFont": "Liberation Sans", "labelFontSize": 13, "labelFontWeight": "bold", "labelColor": "#000", "labelPadding": 12, "title": "Wavelength (μm)", "titleFont": "DejaVu Sans", "titleFontSize": 22, "titleFontWeight": "normal", "titleColor": "#000", "titlePadding": 8, "zindex": 1}},
  "y": {"field": "y", "type": "quantitative", "scale": {"domain": [0, 1500], "nice": false, "zero": false}, "axis": {"orient": "left", "values": [500,1000,1500], "format": "d", "offset": -12, "tickSize": 12, "ticks": true, "labelFont": "Liberation Sans", "labelFontSize": 13, "labelFontWeight": "bold", "labelColor": "#000", "labelPadding": 4, "labelFlush": true, "title": null, "zindex": 1}}}},
{"data": {"name": "hires"}, "mark": {"type": "line", "color": "#000000", "strokeWidth": 3},
 "encoding": {"x": {"field": "x", "type": "quantitative", "scale": {"domain": [5.04, 20], "nice": false, "zero": false}, "axis": {"orient": "bottom", "values": [5.5,6,6.5,7,7.5,8,8.5,9,9.5,10,10.5,11,11.5,12,12.5,13,13.5,14,14.5,15,15.5,16,16.5,17,17.5,18,18.5,19,19.5], "offset": -4, "tickSize": 4, "ticks": true, "labels": false, "title": null, "zindex": 1}},
  "y": {"field": "y", "type": "quantitative", "scale": {"domain": [0, 1500], "nice": false, "zero": false}, "axis": {"orient": "left", "values": [100,200,300,400,600,700,800,900,1100,1200,1300,1400], "offset": -6, "tickSize": 6, "ticks": true, "labels": false, "title": null, "zindex": 1}}}},
{"data": {"name": "drude"}, "mark": {"type": "line", "color": "#6b6bff", "strokeWidth": 2.5, "interpolate": "monotone"},
 "encoding": {"x": {"field": "x", "type": "quantitative", "scale": {"domain": [5.04, 20], "nice": false, "zero": false}, "axis": {"orient": "top", "values": [6,8,10,12,14,16,18], "offset": -8, "tickSize": 8, "ticks": true, "labels": false, "title": null, "zindex": 1}},
  "y": {"field": "y", "type": "quantitative", "scale": {"domain": [0, 1500], "nice": false, "zero": false}, "axis": {"orient": "right", "values": [500,1000], "offset": -12, "tickSize": 12, "ticks": true, "labels": false, "title": null, "zindex": 1}}, "detail": {"field": "id", "type": "nominal"}}},
{"data": {"name": "model"}, "mark": {"type": "line", "color": "#ff8000", "strokeWidth": 3, "interpolate": "monotone"},
 "encoding": {"x": {"field": "x", "type": "quantitative", "scale": {"domain": [5.04, 20], "nice": false, "zero": false}, "axis": {"orient": "top", "values": [5.5,6,6.5,7,7.5,8,8.5,9,9.5,10,10.5,11,11.5,12,12.5,13,13.5,14,14.5,15,15.5,16,16.5,17,17.5,18,18.5,19,19.5], "offset": -4, "tickSize": 4, "ticks": true, "labels": false, "title": null, "zindex": 1}},
  "y": {"field": "y", "type": "quantitative", "scale": {"domain": [0, 1500], "nice": false, "zero": false}, "axis": {"orient": "right", "values": [100,200,300,400,600,700,800,900,1100,1200,1300,1400], "offset": -6, "tickSize": 6, "ticks": true, "labels": false, "title": null, "zindex": 1}}}},
{"data": {"name": "cont"}, "mark": {"type": "line", "color": "#b000b8", "strokeWidth": 3, "interpolate": "monotone"},
 "encoding": {"x": {"field": "x", "type": "quantitative", "scale": {"domain": [5.04, 20], "nice": false, "zero": false}, "axis": null},
  "y": {"field": "y", "type": "quantitative", "scale": {"domain": [0, 1500], "nice": false, "zero": false}, "axis": null}}},
{"data": {"name": "h2"}, "mark": {"type": "line", "color": "#0a8a0a", "strokeWidth": 3},
 "encoding": {"x": {"field": "x", "type": "quantitative", "scale": {"domain": [5.04, 20], "nice": false, "zero": false}, "axis": null},
  "y": {"field": "y", "type": "quantitative", "scale": {"domain": [0, 1500], "nice": false, "zero": false}, "axis": null}, "detail": {"field": "id", "type": "nominal"}}},
{"data": {"values": [{"x": 19.5, "y": 1297, "t": "PAHFIT"}]}, "mark": {"type": "text", "align": "right", "baseline": "middle", "font": "DejaVu Sans", "fontSize": 18, "color": "#000"},
 "encoding": {"x": {"field": "x", "type": "quantitative", "scale": {"domain": [5.04, 20], "nice": false, "zero": false}, "axis": null},
  "y": {"field": "y", "type": "quantitative", "scale": {"domain": [0, 1500], "nice": false, "zero": false}, "axis": null}, "text": {"field": "t"}}}
]
}
],
"spacing": 0,
"bounds": "flush"
}
